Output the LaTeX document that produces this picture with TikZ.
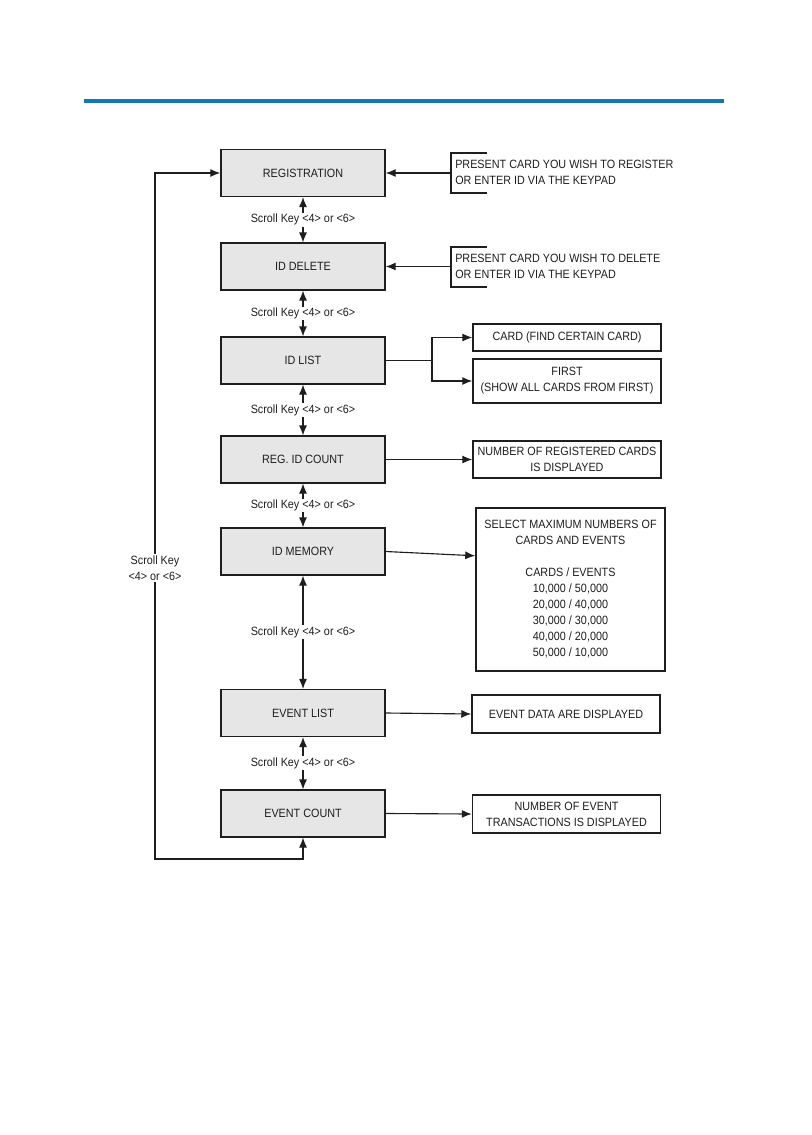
\documentclass[tikz,border=0pt]{standalone}
\usepackage{fontspec}
\setmainfont{Liberation Sans}[FakeStretch=0.9]
\usetikzlibrary{arrows.meta,calc}
\definecolor{rulecol}{RGB}{18,120,178}
\definecolor{boxgray}{RGB}{230,230,230}
\definecolor{ink}{RGB}{30,30,30}
\begin{document}
\begin{tikzpicture}[x=0.75pt,y=-0.75pt,
  font=\fontsize{9}{12}\selectfont, text=ink,
  mainbox/.style={draw=ink, line width=1.1pt, fill=boxgray, minimum width=123pt, minimum height=35pt, inner sep=0pt},
  sidebox/.style={draw=ink, line width=1.1pt, fill=white, minimum width=141pt, inner sep=0pt, align=center},
  conn/.style={draw=ink, line width=0.85pt},
  tip/.style={-{Latex[length=7.5pt,width=6pt]}},
  dtip/.style={{Latex[length=7.5pt,width=6pt]}-{Latex[length=7.5pt,width=6pt]}},
  lbl/.style={fill=white, inner sep=1pt, align=center},
  note/.style={anchor=west, align=left, inner sep=0pt}]
\useasboundingbox (0,0) rectangle (811,1135);
\draw[rulecol, line width=2.4pt] (84,101) -- (724,101);

% main column
\node[mainbox] (reg)    at (303,173) {REGISTRATION};
\node[mainbox] (iddel)  at (303,266.5) {ID DELETE};
\node[mainbox] (idlist) at (303,360.5) {ID LIST};
\node[mainbox] (regcnt) at (303,459.5) {REG. ID COUNT};
\node[mainbox] (idmem)  at (303,551.5) {ID MEMORY};
\node[mainbox] (evlist) at (303,713) {EVENT LIST};
\node[mainbox] (evcnt)  at (303,813.5) {EVENT COUNT};

% scroll key connectors
\foreach \a/\b in {reg/iddel, iddel/idlist, idlist/regcnt, regcnt/idmem, idmem/evlist, evlist/evcnt}{
  \draw[conn, dtip] (\a.south) -- (\b.north) node[midway, lbl] {Scroll Key <4> or <6>};
}

% loop back
\coordinate (lbot) at (303,859);
\coordinate (lcorner) at (155,859);
\coordinate (ltop) at (155,173);
\draw[conn, dtip] (evcnt.south) -- (lbot) -- (lcorner) -- (ltop) -- (reg.west);
\node[lbl] (looplbl) at (155,568) {Scroll Key\\<4> or <6>};

% notes with brackets
\node[note] (regnote) at (455,172) {PRESENT CARD YOU WISH TO REGISTER\\OR ENTER ID VIA THE KEYPAD};
\coordinate (regbr) at (451,173);
\draw[conn] (487,153) -- (451,153) -- (451,193) -- (487,193);
\draw[conn, tip] (regbr) -- (reg.east);

\node[note] (delnote) at (455,266) {PRESENT CARD YOU WISH TO DELETE\\OR ENTER ID VIA THE KEYPAD};
\coordinate (delbr) at (451,266.5);
\draw[conn] (487,247) -- (451,247) -- (451,287) -- (487,287);
\draw[conn, tip] (delbr) -- (iddel.east);

% ID list branches
\node[sidebox, minimum height=20.25pt] (card)  at (567,337.5) {CARD (FIND CERTAIN CARD)};
\node[sidebox, minimum height=33pt]    (first) at (567,381) {FIRST\\(SHOW ALL CARDS FROM FIRST)};
\coordinate (split) at (432,360.5);
\draw[conn] (idlist.east) -- (split);
\draw[conn, tip] (split) |- (card.west);
\draw[conn, tip] (split) |- (first.west);

% reg count
\node[sidebox, minimum height=27.75pt] (regres) at (567,459.5) {NUMBER OF REGISTERED CARDS\\IS DISPLAYED};
\draw[conn, tip] (regcnt.east) -- (regres.west);

% memory
\node[sidebox, minimum height=122.25pt, minimum width=141.75pt] (mem) at (570.5,589.5)
  {SELECT MAXIMUM NUMBERS OF\\CARDS AND EVENTS\\[12pt]CARDS / EVENTS\\10,000 / 50,000\\20,000 / 40,000\\30,000 / 30,000\\40,000 / 20,000\\50,000 / 10,000};
\draw[conn, tip] (idmem.east) -- ($(mem.north west)!0.295!(mem.south west)$);

% event list / count
\node[sidebox, minimum height=28.5pt] (evres) at (566,714) {EVENT DATA ARE DISPLAYED};
\draw[conn, tip] (evlist.east) -- (evres.west);
\node[sidebox, minimum height=28.5pt] (cntres) at (566.5,814) {NUMBER OF EVENT\\TRANSACTIONS IS DISPLAYED};
\draw[conn, tip] (evcnt.east) -- (cntres.west);
\end{tikzpicture}
\end{document}
